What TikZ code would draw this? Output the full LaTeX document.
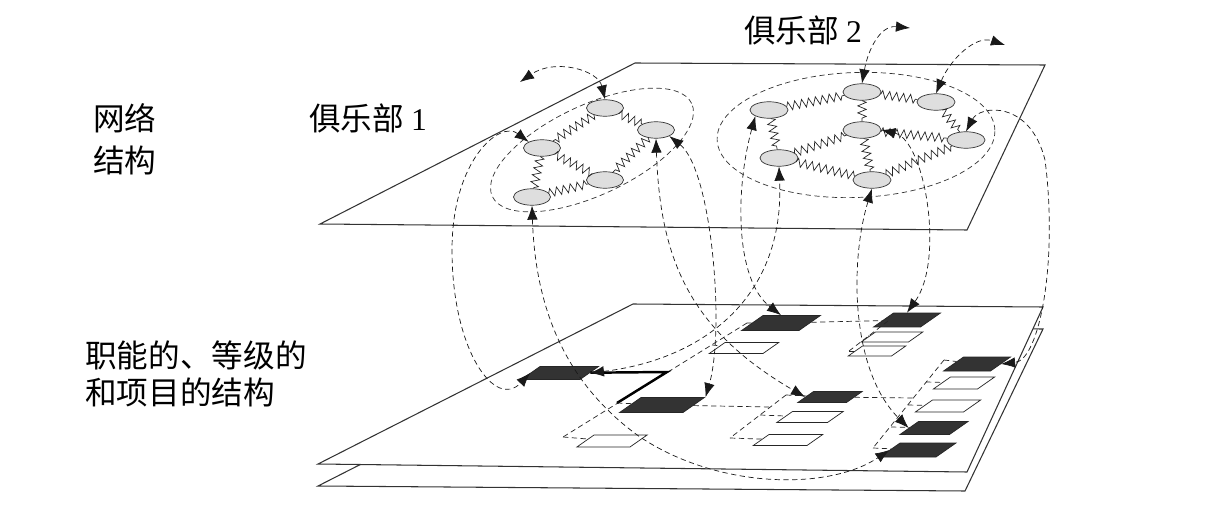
\documentclass[tikz,border=0pt]{standalone}
\usepackage{fontspec}
\newfontfamily\cjk{Noto Sans CJK SC}
\newfontfamily\digits{Liberation Serif}
\usetikzlibrary{shapes.geometric,decorations.pathmorphing,arrows.meta}
\newcommand{\blk}[2]{\rule{#1}{0pt}\rule{0pt}{#2}}

\begin{document}
\begin{tikzpicture}[x=0.02cm,y=-0.02cm]
\tikzstyle{plane}=[black!80, line width=0.6pt]
\tikzstyle{ring}=[ellipse, draw=black!80, densely dashed, inner sep=0pt]
\tikzstyle{member}=[ellipse, draw=black!80, fill=black!13, minimum width=7.4mm, minimum height=3.3mm, inner sep=0pt]
\tikzstyle{spring}=[decorate, decoration={zigzag, segment length=4pt, amplitude=2.4pt}, black!85]
\tikzstyle{unit}=[trapezium, trapezium left angle=35, trapezium right angle=145, draw=black!85, inner sep=0pt]
\tikzstyle{boss}=[unit, fill=black!80]
\tikzstyle{orgline}=[densely dashed, black!85]
\tikzstyle{connect}=[{Latex[length=8pt,width=6pt]}-{Latex[length=8pt,width=6pt]}, densely dashed, black!90]
\tikzstyle{words}=[font=\cjk\fontsize{18pt}{24pt}\selectfont, align=left, inner sep=0pt]
  \useasboundingbox (0,0) rectangle (1211,527);
  % lower sheets
  \draw[plane] (318,486) -- (633,326) -- (1043,329) -- (965,491) -- cycle;
  \draw[plane, fill=white] (318,464) -- (633,304) -- (1043,307) -- (967,472) -- cycle;
  % upper plane
  \draw[plane] (320,224) -- (635,63) -- (1045,65) -- (967,230) -- cycle;

  % units of the lower structure
  \node[boss] (D1) at (560,373) {\blk{0.8cm}{0.26cm}};
  \node[boss] (D2) at (662,405) {\blk{0.84cm}{0.3cm}};
  \node[boss] (D3) at (781,323) {\blk{0.72cm}{0.3cm}};
  \node[boss] (D4) at (830,397) {\blk{0.66cm}{0.22cm}};
  \node[boss] (D5) at (907,320) {\blk{0.54cm}{0.28cm}};
  \node[boss] (D6) at (977,364) {\blk{0.54cm}{0.28cm}};
  \node[boss] (D7) at (934,428) {\blk{0.62cm}{0.26cm}};
  \node[boss] (D8) at (918,450) {\blk{0.72cm}{0.28cm}};
  \node[unit] (W1) at (612,441) {\blk{0.72cm}{0.24cm}};
  \node[unit] (W3) at (744,348) {\blk{0.76cm}{0.22cm}};
  \node[unit] (W4a) at (810,417) {\blk{0.7cm}{0.22cm}};
  \node[unit] (W4b) at (788,440) {\blk{0.76cm}{0.22cm}};
  \node[unit] (W5a) at (892,337) {\blk{0.66cm}{0.2cm}};
  \node[unit] (W5b) at (877,351) {\blk{0.58cm}{0.2cm}};
  \node[unit] (W6a) at (964,383) {\blk{0.54cm}{0.24cm}};
  \node[unit] (W6b) at (948,406) {\blk{0.62cm}{0.24cm}};

  \coordinate (s1top) at (747,323);
  \coordinate (s1w3) at (712,345);
  \coordinate (s1d1) at (667,372);
  \coordinate (s1d2) at (617,403);
  \coordinate (s1bot) at (563,437);
  \coordinate (s2top) at (786,395);
  \coordinate (s2w4) at (760,415);
  \coordinate (s2d2) at (770,407);
  \coordinate (s2bot) at (730,438);
  \coordinate (s3top) at (888,321);
  \coordinate (s3w5) at (868,336);
  \coordinate (s3bot) at (849,351);
  \coordinate (s4top) at (944,360);
  \coordinate (s4w6a) at (926,382);
  \coordinate (s4d4) at (913,398);
  \coordinate (s4w6b) at (908,405);
  \coordinate (s4d7) at (891,427);
  \coordinate (s4bot) at (873,448);

  \draw[orgline] (s1top) -- (s1bot);
  \draw[orgline] (s1top) -- (D3);
  \draw[orgline] (s1w3) -- (W3);
  \draw[line width=1.4pt] (D1) -- (s1d1) -- (s1d2);
  \draw[orgline] (s1d2) -- (D2);
  \draw[orgline] (s1bot) -- (W1);
  \draw[orgline] (D2) -- (s2d2);
  \draw[orgline] (s2top) -- (s2bot);
  \draw[orgline] (s2top) -- (D4);
  \draw[orgline] (s2w4) -- (W4a);
  \draw[orgline] (s2bot) -- (W4b);
  \draw[orgline] (D3) -- (D5);
  \draw[orgline] (s3top) -- (s3bot);
  \draw[orgline] (s3w5) -- (W5a);
  \draw[orgline] (s3bot) -- (W5b);
  \draw[orgline] (D4) -- (s4d4);
  \draw[orgline] (s4top) -- (s4bot);
  \draw[orgline] (s4top) -- (D6);
  \draw[orgline] (s4w6a) -- (W6a);
  \draw[orgline] (s4w6b) -- (W6b);
  \draw[orgline] (s4d7) -- (D7);
  \draw[orgline] (s4bot) -- (D8);

  % clubs
  \node[ring, minimum width=4.4cm, minimum height=1.8cm, rotate=25] (club1) at (592,150) {};
  \node[ring, minimum width=5.56cm, minimum height=2.5cm, rotate=2] (club2) at (856,135) {};

  \node[member] (n1) at (605,108) {};
  \node[member] (n2) at (656,130) {};
  \node[member] (n3) at (542,148) {};
  \node[member] (n4) at (605,180) {};
  \node[member] (n5) at (532,197) {};
  \path (n1) edge [spring] (n3)
        (n1) edge [spring] (n2)
        (n3) edge [spring] (n5)
        (n3) edge [spring] (n4)
        (n5) edge [spring] (n4)
        (n2) edge [spring] (n4);

  \node[member, minimum width=7.6mm] (k1) at (862,92) {};
  \node[member, minimum width=7.6mm] (k2) at (936,102) {};
  \node[member, minimum width=7.6mm] (k3) at (769,110) {};
  \node[member, minimum width=7.6mm] (k4) at (862,130) {};
  \node[member, minimum width=7.6mm] (k5) at (966,140) {};
  \node[member, minimum width=7.6mm] (k6) at (779,158) {};
  \node[member, minimum width=7.6mm] (k7) at (872,180) {};
  \path (k3) edge [spring] (k1)
        (k1) edge [spring] (k2)
        (k1) edge [spring] (k4)
        (k2) edge [spring] (k5)
        (k3) edge [spring] (k6)
        (k6) edge [spring] (k4)
        (k4) edge [spring] (k5)
        (k6) edge [spring] (k7)
        (k4) edge [spring] (k7)
        (k7) edge [spring] (k5);

  % links between the two structures
  \coordinate (free1) at (520,82);
  \coordinate (free2) at (910,28);
  \coordinate (free3) at (1005,45);
  \draw[connect] (n1.north) .. controls (598,70) and (555,58) .. (free1);
  \draw[connect] (n3.north west) .. controls (500,120) and (452,160) .. (452,250) .. controls (452,350) and (495,410) .. (D1.west);
  \draw[connect] (n5.south) .. controls (535,300) and (560,380) .. (640,437) .. controls (720,490) and (830,490) .. (D8.west);
  \draw[connect] (n2.south) .. controls (660,260) and (690,330) .. (D4.west);
  \draw[connect] (n2.south east) .. controls (712,170) and (725,330) .. (D2.top right corner);
  \draw[connect] (D1.east) .. controls (700,360) and (785,300) .. (k6.south);
  \draw[connect] (k3.south west) .. controls (735,190) and (735,280) .. (D3.north);
  \draw[connect] (k4.east) .. controls (925,140) and (945,260) .. (D5.north);
  \draw[connect] (k5.north) .. controls (980,105) and (1030,100) .. (1045,160) .. controls (1058,260) and (1040,360) .. (D6.east);
  \draw[connect] (k7.south) .. controls (850,260) and (850,370) .. (D7.west);
  \draw[connect] (k1.north) .. controls (868,50) and (880,25) .. (free2);
  \draw[connect] (k2.north) .. controls (950,60) and (975,35) .. (free3);

  % labels
  \node[words, anchor=west] (netlabel) at (93,139) {网络\\结构};
  \node[words] (club1label) at (368,118) {俱乐部 {\digits 1}};
  \node[words] (club2label) at (803,30) {俱乐部 {\digits 2}};
  \node[words, anchor=west, font=\cjk\fontsize{18pt}{21.5pt}\selectfont] (orglabel) at (85,374) {职能的、等级的\\和项目的结构};
\end{tikzpicture}
\end{document}
